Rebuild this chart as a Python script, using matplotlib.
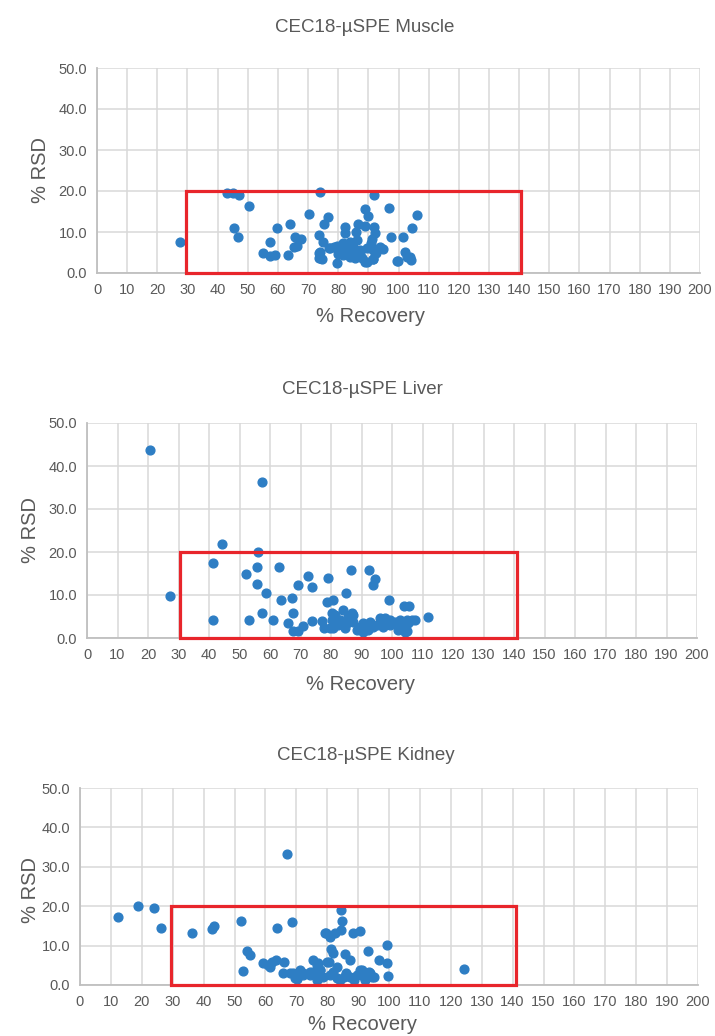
import matplotlib
matplotlib.use("Agg")
import matplotlib.pyplot as plt
from matplotlib.patches import Rectangle
import numpy as np

plt.rcParams['font.family'] = ['Liberation Sans', 'DejaVu Sans']

# % Recovery / % RSD
muscle_x = [27.5, 43.0, 45.2, 47.2, 50.3, 45.4, 46.8, 59.8, 64.0, 57.4, 55.0, 57.4, 59.1,
            63.3, 65.8, 67.6, 65.3, 66.4, 70.4, 76.6, 75.4, 74.0, 73.5, 74.8, 73.5, 74.0,
            77.0, 79.5, 79.5, 91.9, 96.9, 106.2, 88.9, 90.0, 86.6, 89.0, 91.9, 82.4, 82.4,
            86.0, 92.1, 104.5, 97.4, 101.6, 91.1, 90.8, 81.7, 83.9, 86.1, 78.7, 80.6, 82.8,
            85.0, 87.2, 89.4, 91.6, 93.9, 81.7, 83.9, 85.6, 87.8, 89.4, 91.6, 87.2, 85.0,
            77.3, 74.0, 73.5, 74.6, 99.4, 102.2, 102.7, 104.3, 99.9, 88.9, 91.4, 103.8,
            84.0, 80.0, 92.5, 95.0]
muscle_y = [7.5, 19.6, 19.4, 19.0, 16.4, 11.0, 8.8, 11.0, 12.0, 7.5, 4.8, 4.1, 4.3,
            4.3, 8.9, 8.3, 6.4, 6.6, 14.3, 13.7, 12.0, 19.8, 9.3, 7.6, 5.0, 3.7,
            6.0, 6.6, 2.5, 19.0, 15.9, 14.2, 15.5, 13.9, 12.0, 11.5, 11.1, 11.1, 9.8,
            10.1, 9.7, 11.0, 8.7, 8.7, 8.4, 7.2, 7.2, 7.6, 8.0, 6.4, 6.0, 5.6,
            5.2, 5.6, 6.0, 5.6, 6.4, 4.4, 4.0, 3.6, 3.6, 2.8, 3.3, 4.8, 6.4,
            6.0, 5.2, 3.6, 3.3, 2.9, 5.2, 4.0, 3.2, 3.0, 2.8, 3.3, 3.8,
            5.8, 4.6, 4.9, 5.8]

liver_x = [20.6, 57.5, 44.4, 56.2, 41.4, 55.7, 62.8, 52.1, 72.4, 78.9, 55.7, 69.3, 73.7,
           27.1, 58.7, 63.5, 67.1, 41.4, 53.2, 57.5, 61.1, 65.8, 67.6, 67.6, 69.3, 70.9,
           73.7, 78.8, 77.1, 77.8, 79.7, 80.2, 86.7, 92.6, 94.5, 93.9, 84.9, 80.8, 99.1,
           103.9, 105.7, 111.7, 81.3, 83.8, 83.0, 85.1, 87.3, 87.3, 80.8, 84.6, 88.4,
           90.6, 92.2, 93.9, 96.1, 97.1, 99.3, 101.0, 102.1, 104.3, 105.3, 107.5, 102.6,
           99.3, 95.0, 89.5, 90.6, 92.8, 85.7, 82.4, 80.2, 86.8, 96.1, 97.7, 104.8,
           106.4, 103.2, 104.8]
liver_y = [43.7, 36.3, 21.9, 20.1, 17.4, 16.6, 16.6, 14.9, 14.4, 14.0, 12.6, 12.3, 11.9,
           9.7, 10.5, 8.8, 9.2, 4.3, 4.3, 5.7, 4.3, 3.6, 5.7, 1.7, 1.7, 2.9,
           4.0, 8.3, 4.0, 2.3, 2.3, 5.7, 15.7, 15.7, 13.7, 12.3, 10.5, 8.8, 8.8,
           7.5, 7.5, 4.8, 5.3, 6.5, 4.2, 3.4, 5.3, 3.8, 2.3, 2.3, 1.9,
           1.5, 1.9, 2.6, 3.8, 2.6, 3.0, 3.8, 1.9, 1.5, 3.4, 4.3, 4.3,
           4.3, 3.0, 2.6, 3.4, 3.8, 5.0, 3.0, 4.2, 5.7, 4.6, 4.6, 4.2,
           4.2, 2.3, 1.6]

kidney_x = [66.9, 12.2, 18.7, 24.0, 26.2, 36.3, 42.6, 43.4, 52.1, 63.9, 68.5, 79.6,
            53.9, 55.0, 52.6, 59.3, 60.9, 62.0, 63.4, 61.5, 66.0, 65.6, 68.0, 69.6,
            72.3, 74.4, 75.5, 77.1, 77.7, 79.9, 75.5, 84.4, 84.9, 79.2, 80.8, 82.4,
            84.4, 88.3, 90.5, 81.3, 81.9, 85.7, 87.4, 93.3, 99.3, 99.3, 96.9, 99.8,
            76.6, 80.5, 83.1, 69.0, 70.1, 72.3, 74.4, 76.6, 78.7, 80.9, 83.1, 85.3,
            87.5, 89.6, 91.8, 94.0, 95.1, 71.2, 77.7, 81.9, 86.2, 90.6, 76.6, 84.2,
            88.6, 92.2, 124.3, 91.3, 93.5, 94.6]
kidney_y = [33.2, 17.2, 20.0, 19.5, 14.5, 13.1, 14.1, 15.0, 16.3, 14.5, 15.9, 13.1,
            8.7, 7.6, 3.6, 5.5, 5.1, 5.9, 6.3, 4.6, 5.8, 3.1, 3.0, 1.7,
            3.0, 2.5, 6.3, 5.5, 3.8, 5.9, 3.4, 19.0, 16.2, 13.1, 12.3, 13.1,
            14.0, 13.3, 13.6, 9.1, 8.0, 7.8, 6.3, 8.6, 10.1, 5.5, 6.3, 2.3,
            5.1, 5.9, 4.5, 3.0, 1.4, 2.5, 3.4, 3.0, 2.1, 2.5, 1.7, 2.0,
            2.1, 2.5, 2.0, 3.0, 2.0, 3.8, 3.8, 3.4, 3.0, 3.8, 1.3, 1.3,
            1.3, 1.3, 4.1, 3.8, 3.4, 2.0]

titles = ["CEC18-µSPE Muscle", "CEC18-µSPE Liver", "CEC18-µSPE Kidney"]
boxes = [(29.5, 140.5), (30.5, 141), (29.5, 141)]  # red target window, x range, RSD 0-20

grey = '#595959'
blue = '#2e7ec4'

fig = plt.figure(figsize=(7.15, 10.36), dpi=100)

# axes rectangles in pixels: left, top, right, bottom
frames = [(97, 68, 700, 273), (87, 423, 697, 638), (80, 788, 698, 985)]
title_pos = [(365, 27), (362, 389), (366, 756)]
xlab_pos = [(370, 317), (360, 685), (362, 1025)]
ylab_pos = [(40, 170), (30, 530), (30, 890)]
data = [(muscle_x, muscle_y), (liver_x, liver_y), (kidney_x, kidney_y)]

W, H = 715, 1036
for i in range(3):
    l, t, r, b = frames[i]
    ax = fig.add_axes([l / W, 1 - b / H, (r - l) / W, (b - t) / H])
    ax.set_xlim(0, 200)
    ax.set_ylim(0, 50)
    ax.set_xticks(np.arange(0, 201, 10))
    ax.set_yticks(np.arange(0, 51, 10))
    ax.set_yticklabels(['%.1f' % v for v in np.arange(0, 51, 10)])
    ax.grid(True, color='#d9d9d9', lw=1.1)
    ax.set_axisbelow(True)
    for s in ['top', 'right']:
        ax.spines[s].set_visible(False)
    for s in ['left', 'bottom']:
        ax.spines[s].set_color('#bfbfbf')
        ax.spines[s].set_linewidth(1.3)
    ax.tick_params(length=0, labelsize=10.5, labelcolor=grey, pad=7)

    xs, ys = data[i]
    ax.scatter(xs, ys, s=40, color=blue, zorder=3, clip_on=False)

    x0, x1 = boxes[i]
    ax.add_patch(Rectangle((x0, 0), x1 - x0, 20, fill=False, ec='#e8252b', lw=2.3,
                           zorder=4, clip_on=False))

    fig.text(title_pos[i][0] / W, 1 - title_pos[i][1] / H, titles[i], ha='center',
             va='center', fontsize=13.5, color=grey)
    fig.text(xlab_pos[i][0] / W, 1 - xlab_pos[i][1] / H, '% Recovery', ha='center',
             va='center', fontsize=14.5, color=grey)
    fig.text(ylab_pos[i][0] / W, 1 - ylab_pos[i][1] / H, '% RSD', ha='center',
             va='center', fontsize=14.5, color=grey, rotation=90)

fig.savefig('out.png', dpi=100, facecolor='white')
